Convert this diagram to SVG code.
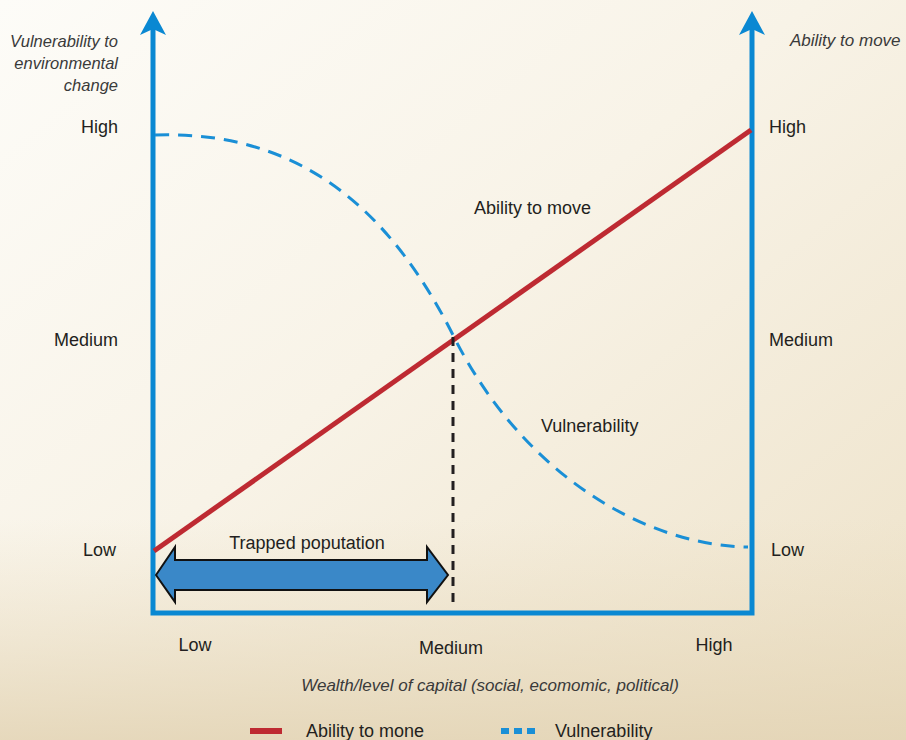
<svg xmlns="http://www.w3.org/2000/svg" width="906" height="740" viewBox="0 0 906 740">
  <defs>
    <linearGradient id="bg" x1="0" y1="0" x2="1" y2="1">
      <stop offset="0" stop-color="#fdfcf8"/>
      <stop offset="0.45" stop-color="#f8f3e7"/>
      <stop offset="1" stop-color="#ede1c7"/>
    </linearGradient>
    <linearGradient id="bgv" x1="0" y1="0" x2="0" y2="1">
      <stop offset="0.7" stop-color="#e9dcc0" stop-opacity="0"/>
      <stop offset="1" stop-color="#e3d4b5" stop-opacity="0.85"/>
    </linearGradient>
    <style>
      text { font-family: "Liberation Sans", Arial, sans-serif; fill: #231f20; }
      .lbl { font-size: 18px; }
      .it { font-style: italic; font-size: 16.5px; fill: #3a3a3a; }
      .axis { fill: none; stroke: #0a88d2; stroke-width: 5; stroke-linejoin: miter; }
      .head { fill: #0a88d2; }
      .red { stroke: #be2a32; stroke-width: 5; fill: none; }
      .vul { stroke: #1a8fd6; stroke-width: 3; fill: none; stroke-dasharray: 14 9; }
      .mid { stroke: #231f20; stroke-width: 3; fill: none; stroke-dasharray: 9 7; }
    </style>
  </defs>
  <rect x="0" y="0" width="906" height="740" fill="url(#bg)"/>
  <rect x="0" y="0" width="906" height="740" fill="url(#bgv)"/>

  <g id="axes">
    <path class="axis" d="M153,28 V613 H752 V28"/>
    <path class="head" d="M153,11 L166,35 L153,29 L140,35 Z"/>
    <path class="head" d="M752,11 L765,35 L752,29 L739,35 Z"/>
  </g>

  <g id="connectors">
    <path class="vul" d="M155,135 C300,130 390,210 453,335 C520,470 640,545 748,547"/>
    <line class="red" x1="154" y1="551" x2="751" y2="130"/>
    <line class="mid" x1="453" y1="337" x2="453" y2="606"/>
  </g>

  <g id="trapped">
    <polygon points="156,575 175,547 175,560 427,560 427,547 448,575 427,602 427,590 175,590 175,602" fill="#3a88c8" stroke="#111" stroke-width="2" stroke-linejoin="miter"/>
    <text class="lbl" x="307" y="549" text-anchor="middle">Trapped poputation</text>
  </g>

  <g id="left-labels">
    <text class="it" x="118" y="47" text-anchor="end">Vulnerability to</text>
    <text class="it" x="118" y="69" text-anchor="end">environmental</text>
    <text class="it" x="118" y="91" text-anchor="end">change</text>
    <text class="lbl" x="118" y="133" text-anchor="end">High</text>
    <text class="lbl" x="118" y="346" text-anchor="end">Medium</text>
    <text class="lbl" x="116" y="556" text-anchor="end">Low</text>
  </g>

  <g id="right-labels">
    <text class="it" x="790" y="46" style="font-size:17px">Ability to move</text>
    <text class="lbl" x="769" y="133">High</text>
    <text class="lbl" x="769" y="346">Medium</text>
    <text class="lbl" x="771" y="556">Low</text>
  </g>

  <g id="bottom-labels">
    <text class="lbl" x="195" y="651" text-anchor="middle">Low</text>
    <text class="lbl" x="451" y="654" text-anchor="middle">Medium</text>
    <text class="lbl" x="714" y="651" text-anchor="middle">High</text>
    <text class="it" x="490" y="691" text-anchor="middle" style="font-size:17px">Wealth/level of capital (social, ecomomic, political)</text>
  </g>

  <g id="curve-labels">
    <text class="lbl" x="474" y="214">Ability to move</text>
    <text class="lbl" x="541" y="432">Vulnerability</text>
  </g>

  <g id="legend">
    <rect x="250" y="728" width="32" height="6" fill="#be2a32"/>
    <text class="lbl" x="306" y="737">Ability to mone</text>
    <rect x="501" y="728" width="8" height="6" fill="#1a8fd6"/>
    <rect x="514" y="728" width="8" height="6" fill="#1a8fd6"/>
    <rect x="527" y="728" width="8" height="6" fill="#1a8fd6"/>
    <text class="lbl" x="555" y="737">Vulnerability</text>
  </g>
</svg>
